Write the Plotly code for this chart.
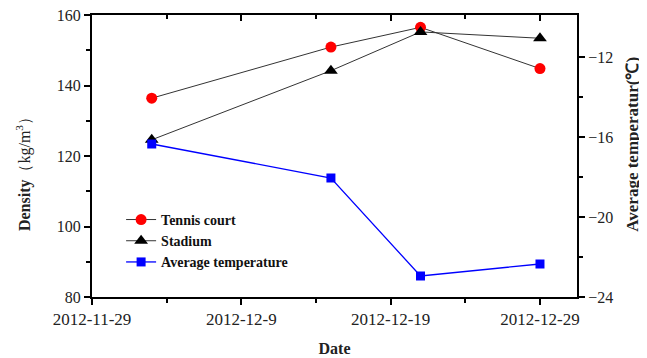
import plotly.graph_objects as go

dates = ["2012-12-03", "2012-12-15", "2012-12-21", "2012-12-29"]
tennis_court = [136.4, 150.9, 156.5, 144.8]
stadium = [124.6, 144.2, 155.2, 153.4]
avg_temp = [-16.35, -18.05, -22.95, -22.35]

x_tick_vals = ["2012-11-29", "2012-12-09", "2012-12-19", "2012-12-29"]
x_tick_text = ["2012-11-29", "2012-12-9", "2012-12-19", "2012-12-29"]
x_minor_vals = ["2012-12-04", "2012-12-14", "2012-12-24"]
x_range = ["2012-11-29", "2012-12-31 11:30"]
y_range = [80, 160]
y2_range = [-24, -9.9]
y2_tick_vals = [-24, -20, -16, -12]
y2_minor_vals = [-22, -18, -14]

serif = "Liberation Serif"

fig = go.Figure()
fig.add_trace(go.Scatter(
    x=dates, y=tennis_court, name="Tennis court", mode="lines+markers",
    line=dict(color="#333333", width=1),
    marker=dict(symbol="circle", size=11, color="#ff0000"),
))
fig.add_trace(go.Scatter(
    x=dates, y=stadium, name="Stadium", mode="lines+markers",
    line=dict(color="#333333", width=1),
    marker=dict(symbol="triangle-up", size=12, color="#000000"),
))
fig.add_trace(go.Scatter(
    x=dates, y=avg_temp, name="Average temperature", mode="lines+markers",
    yaxis="y2",
    line=dict(color="#0000ff", width=1.3),
    marker=dict(symbol="square", size=9, color="#0000ff"),
))
# invisible helper trace to anchor the top (mirror) axis
fig.add_trace(go.Scatter(
    x=dates, y=tennis_court, xaxis="x2", mode="markers",
    marker=dict(opacity=0), showlegend=False, hoverinfo="skip",
))

axis_common = dict(
    showline=True, linecolor="black", linewidth=2,
    ticks="outside", tickcolor="black", tickwidth=1.5, ticklen=6,
    showgrid=False, zeroline=False, automargin=False,
    ticklabeloverflow="allow",
)

# page body has an 8px default margin; figure size compensates
fig.update_layout(
    width=639, height=350,
    margin=dict(l=84, r=70, t=7, b=61),
    paper_bgcolor="white", plot_bgcolor="white",
    font=dict(family=serif, color="#222"),
    xaxis=dict(
        type="date", range=x_range,
        tickmode="array", tickvals=x_tick_vals, ticktext=x_tick_text,
        tickfont=dict(family=serif, size=17, color="#222"),
        minor=dict(tickmode="array", tickvals=x_minor_vals, ticks="outside",
                   ticklen=4, tickcolor="black", tickwidth=1.5),
        title=dict(text="<b>Date</b>", font=dict(family=serif, size=16), standoff=14),
        **axis_common,
    ),
    xaxis2=dict(
        type="date", range=x_range, overlaying="x", side="top",
        showline=True, linecolor="black", linewidth=2, automargin=False,
        ticks="inside", tickcolor="black", tickwidth=1.5, ticklen=6,
        tickmode="array", tickvals=x_tick_vals, showticklabels=False,
        minor=dict(tickmode="array", tickvals=x_minor_vals, ticks="inside",
                   ticklen=4, tickcolor="black", tickwidth=1.5),
        showgrid=False, zeroline=False,
    ),
    yaxis=dict(
        range=y_range, tickmode="array", tickvals=[80, 100, 120, 140, 160],
        tickfont=dict(family=serif, size=16, color="#222"),
        minor=dict(tickmode="array", tickvals=[90, 110, 130, 150], ticks="outside",
                   ticklen=4, tickcolor="black", tickwidth=1.5),
        **axis_common,
    ),
    yaxis2=dict(
        range=y2_range, overlaying="y", side="right", anchor="x",
        tickmode="array", tickvals=y2_tick_vals,
        tickfont=dict(family=serif, size=16, color="#222"),
        minor=dict(tickmode="array", tickvals=y2_minor_vals, ticks="outside",
                   ticklen=4, tickcolor="black", tickwidth=1.5),
        **axis_common,
    ),
    legend=dict(
        x=0.06, y=0.33, xanchor="left", yanchor="top",
        bgcolor="rgba(0,0,0,0)", borderwidth=0,
        font=dict(family=serif, size=14, color="#111", weight="bold"),
        tracegroupgap=0, itemwidth=30,
    ),
    annotations=[
        dict(
            text="<b>Density</b>（kg/m<sup>3</sup>）",
            xref="paper", yref="paper", x=0, y=0.45, xshift=-69,
            xanchor="center", yanchor="middle", textangle=-90, showarrow=False,
            font=dict(family=serif, size=16, color="#222"),
        ),
        dict(
            text="<b>Average temperatur(℃)</b>",
            xref="paper", yref="paper", x=1, y=0.54, xshift=56,
            xanchor="center", yanchor="middle", textangle=-90, showarrow=False,
            font=dict(family=serif, size=17, color="#222"),
        ),
    ],
    showlegend=True,
)

fig.write_html("out.html")
